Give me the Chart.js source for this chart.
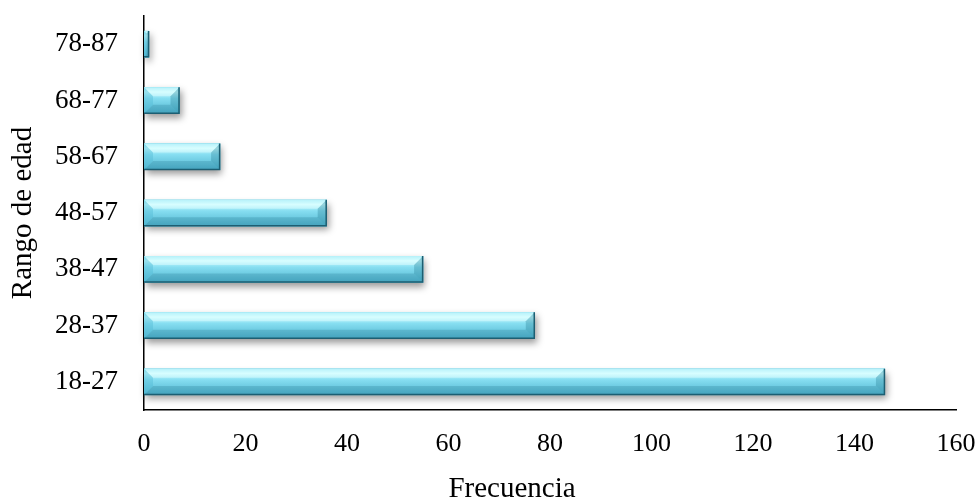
<!DOCTYPE html>
<html>
<head>
<meta charset="utf-8">
<title>Rango de edad</title>
<script src="https://cdn.jsdelivr.net/npm/chart.js@4/dist/chart.umd.min.js"></script>
<style>
    html, body { margin: 0; padding: 0; background: #fff; }
    #chart-edad { display: block; }
</style>
</head>
<body>
<canvas id="chart-edad" width="979" height="499"></canvas>
<script>
// Age ranges, bottom to top as in the picture
const ageRanges = ['18-27', '28-37', '38-47', '48-57', '58-67', '68-77', '78-87'];
const frequencies = [146, 77, 55, 36, 15, 7, 1];
const xTicks = [0, 20, 40, 60, 80, 100, 120, 140, 160];
const xTitle = 'Frecuencia';
const yTitle = 'Rango de edad';

const FONT = "'Liberation Serif', 'Times New Roman', serif";

// Bevel + shadow look, painted on the geometry of the library's bar elements
const bevelBars = {
    id: 'bevelBars',
    beforeDatasetsDraw(chart) {
        const ctx = chart.ctx;
        ctx.save();
        chart.getDatasetMeta(0).data.forEach(bar => {
            const x0 = Math.min(bar.base, bar.x), x1 = Math.max(bar.base, bar.x);
            const y0 = bar.y - bar.height / 2, y1 = bar.y + bar.height / 2;
            ctx.shadowColor = 'rgba(0,0,0,0.4)';
            ctx.shadowBlur = 7;
            ctx.shadowOffsetX = 2;
            ctx.shadowOffsetY = 4;
            ctx.fillStyle = '#4fb3cc';
            ctx.fillRect(x0, y0, x1 - x0, y1 - y0);
        });
        ctx.restore();
    },
    afterDatasetsDraw(chart) {
        const ctx = chart.ctx;
        ctx.save();
        chart.getDatasetMeta(0).data.forEach(bar => {
            const x0 = Math.min(bar.base, bar.x), x1 = Math.max(bar.base, bar.x);
            const y0 = bar.y - bar.height / 2, y1 = bar.y + bar.height / 2;
            if (![x0, x1, y0, y1].every(Number.isFinite)) return;
            const b = Math.min(9, (x1 - x0) / 2, (y1 - y0) / 2);

            // base gradient fill
            const g = ctx.createLinearGradient(0, y0, 0, y1);
            g.addColorStop(0, '#8fe6f5');
            g.addColorStop(0.18, '#cafcff');
            g.addColorStop(0.42, '#86def1');
            g.addColorStop(1, '#4fb3ce');
            ctx.fillStyle = g;
            ctx.fillRect(x0, y0, x1 - x0, y1 - y0);

            const poly = (pts, color) => {
                ctx.beginPath();
                ctx.moveTo(pts[0][0], pts[0][1]);
                pts.slice(1).forEach(p => ctx.lineTo(p[0], p[1]));
                ctx.closePath();
                ctx.fillStyle = color;
                ctx.fill();
            };
            poly([[x0, y0], [x1, y0], [x1 - b, y0 + b], [x0 + b, y0 + b]], 'rgba(230,255,255,0.45)');
            poly([[x0, y1], [x1, y1], [x1 - b, y1 - b], [x0 + b, y1 - b]], 'rgba(20,100,125,0.2)');
            poly([[x0, y0], [x0 + b, y0 + b], [x0 + b, y1 - b], [x0, y1]], 'rgba(80,185,212,0.4)');
            poly([[x1, y0], [x1 - b, y0 + b], [x1 - b, y1 - b], [x1, y1]], 'rgba(30,115,140,0.3)');

            // dark edge on right and bottom
            ctx.strokeStyle = '#1c5e72';
            ctx.lineWidth = 1.5;
            ctx.beginPath();
            ctx.moveTo(x1 - 0.5, y0);
            ctx.lineTo(x1 - 0.5, y1 - 0.5);
            ctx.lineTo(x0, y1 - 0.5);
            ctx.stroke();
        });
        ctx.restore();
    }
};

// The x axis title sits left of the plot centre in the original, so it is drawn here
const xAxisTitle = {
    id: 'xAxisTitle',
    afterDraw(chart) {
        const ctx = chart.ctx;
        ctx.save();
        ctx.font = `29px ${FONT}`;
        ctx.fillStyle = '#000';
        ctx.textAlign = 'center';
        ctx.textBaseline = 'alphabetic';
        ctx.fillText(xTitle, 512, 497);
        ctx.restore();
    }
};

const ctxEdad = document.getElementById('chart-edad');
window.edadChart = new Chart(ctxEdad, {
    type: 'bar',
    data: {
        labels: ageRanges,
        datasets: [{
            label: xTitle,
            data: frequencies,
            backgroundColor: '#86def0',
            borderWidth: 0,
            barPercentage: 0.94,
            categoryPercentage: 0.5
        }]
    },
    options: {
        indexAxis: 'y',
        responsive: false,
        animation: false,
        devicePixelRatio: 1,
        layout: { padding: { top: 16, right: 23, left: 0, bottom: 0 } },
        plugins: { legend: { display: false }, tooltip: { enabled: false } },
        scales: {
            x: {
                min: 0,
                max: 160,
                afterBuildTicks: axis => { axis.ticks = xTicks.map(v => ({ value: v })); },
                afterFit: axis => { axis.height = 89; axis.paddingLeft = 0; axis.paddingRight = 0; },
                grid: { display: false, drawTicks: false },
                border: { display: true, color: '#000', width: 1.5 },
                ticks: { color: '#000', padding: 19, maxRotation: 0, font: { family: FONT, size: 26 } },
                title: { display: false }
            },
            y: {
                reverse: true,
                afterFit: axis => { axis.width = 144; axis.paddingTop = 0; axis.paddingBottom = 0; },
                grid: { display: false, drawTicks: false },
                border: { display: true, color: '#000', width: 1.5 },
                ticks: { color: '#000', padding: 26, font: { family: FONT, size: 27 } },
                title: {
                    display: true,
                    text: yTitle,
                    color: '#000',
                    padding: { top: 9, bottom: 0 },
                    font: { family: FONT, size: 29, lineHeight: 1 }
                }
            }
        }
    },
    plugins: [bevelBars, xAxisTitle]
});
</script>
</body>
</html>
